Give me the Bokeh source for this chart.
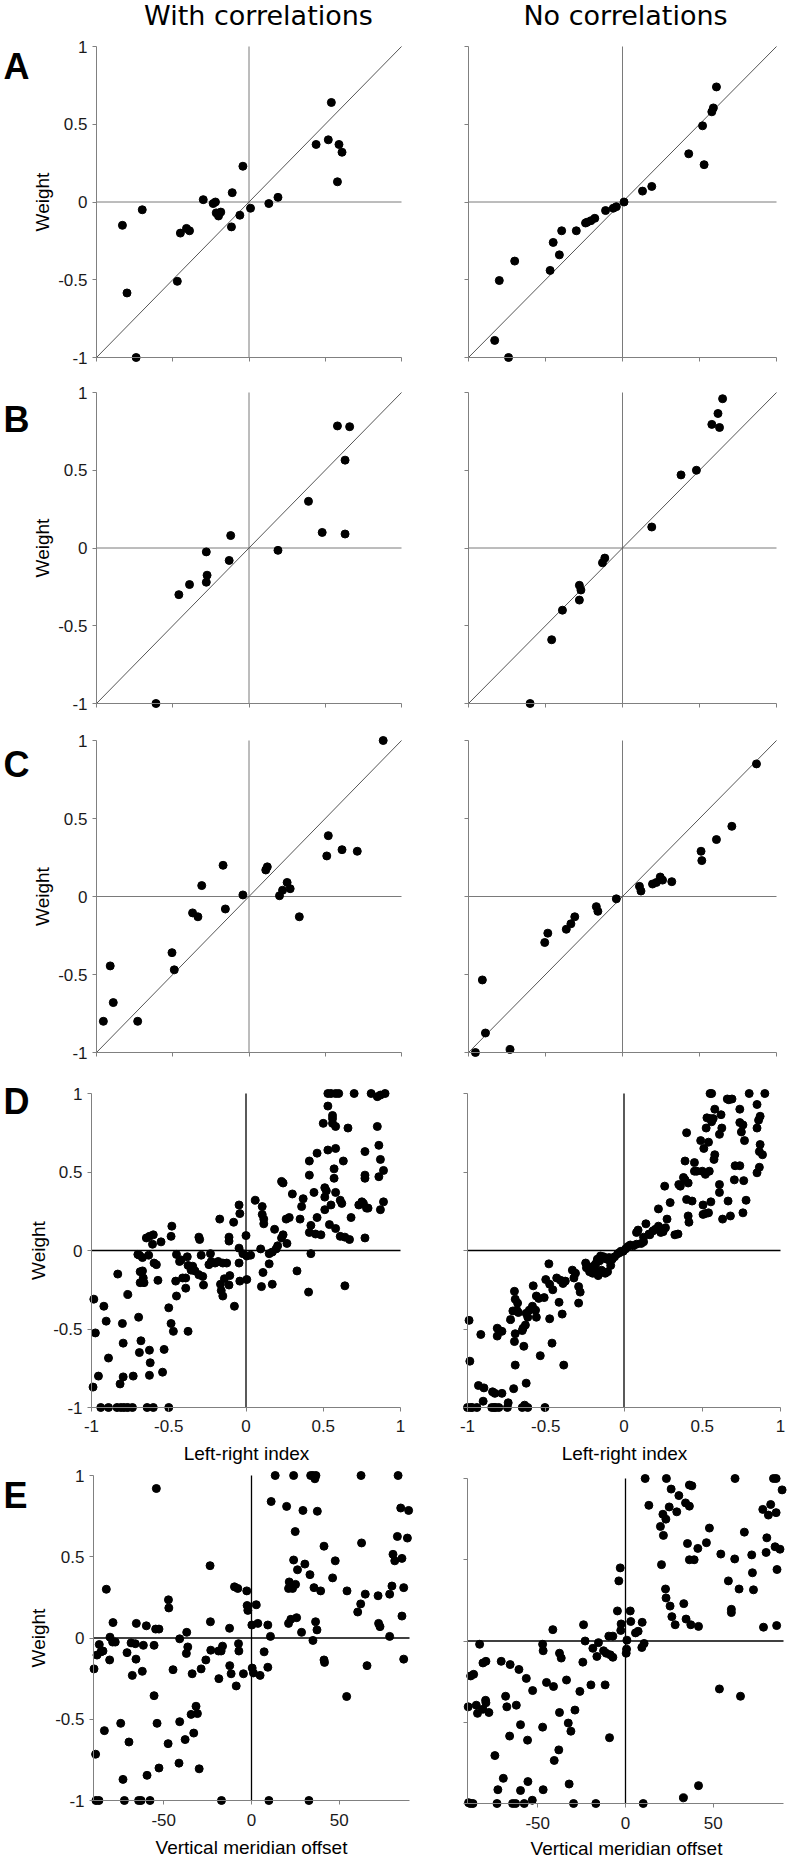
import math
from bokeh.plotting import figure
from bokeh.models import Label, FixedTicker, CustomJSTickFormatter, Range1d
from bokeh.layouts import column, row
from bokeh.embed import file_html
from bokeh.resources import INLINE

# ---------------- data ----------------
WEIGHT_TICKS = [-1, -0.5, 0, 0.5, 1]
WEIGHT_TICK_LABELS = ["-1", "-0.5", "0", "0.5", "1"]
LR_TICKS = [-1, -0.5, 0, 0.5, 1]
LR_TICK_LABELS = ["-1", "-0.5", "0", "0.5", "1"]
VM_TICKS = [-50, 0, 50]
VM_TICK_LABELS = ["-50", "0", "50"]
WEIGHT_LIMITS = [-1, 1]
LR_LIMITS = [-1, 1]
VM_LIMITS = [-90, 90]

COLUMN_TITLES = ["With correlations", "No correlations"]
ROW_LETTERS = ["A", "B", "C", "D", "E"]
Y_TITLE = "Weight"
LR_TITLE = "Left-right index"
VM_TITLE = "Vertical meridian offset"

a_with_x = [0.54, 0.44, 0.52, 0.59, 0.61, 0.58, -0.04, -0.11, -0.30, -0.235, -0.22, -0.215, -0.20, -0.185,
            -0.06, -0.115, 0.01, 0.13, 0.19, -0.83, -0.70, -0.45, -0.41, -0.39, -0.47, -0.80, -0.74]
a_with_y = [0.64, 0.37, 0.40, 0.37, 0.32, 0.13, 0.23, 0.06, 0.015, -0.01, 0.0, -0.07, -0.09, -0.065,
            -0.085, -0.16, -0.04, -0.01, 0.03, -0.15, -0.05, -0.20, -0.17, -0.185, -0.51, -0.585, -1.0]
a_no_x = [0.61, 0.59, 0.58, 0.52, 0.43, 0.53, 0.19, 0.13, 0.01, -0.04, -0.06, -0.11, -0.18, -0.205, -0.23,
          -0.24, -0.30, -0.395, -0.45, -0.41, -0.47, -0.70, -0.80, -0.83, -0.74]
a_no_y = [0.74, 0.605, 0.58, 0.49, 0.31, 0.24, 0.10, 0.07, 0.0, -0.03, -0.04, -0.055, -0.105, -0.12, -0.13,
          -0.135, -0.185, -0.185, -0.26, -0.34, -0.44, -0.38, -0.505, -0.89, -1.0]

b_with_x = [0.58, 0.66, 0.63, 0.39, 0.48, 0.63, 0.19, -0.12, -0.13, -0.28, -0.275, -0.28, -0.39, -0.46, -0.61]
b_with_y = [0.785, 0.78, 0.565, 0.30, 0.10, 0.09, -0.015, 0.08, -0.08, -0.025, -0.175, -0.22, -0.235, -0.30, -1.0]
b_no_x = [0.65, 0.62, 0.58, 0.63, 0.48, 0.38, 0.19, -0.115, -0.13, -0.28, -0.27, -0.28, -0.39, -0.46, -0.60]
b_no_y = [0.96, 0.865, 0.795, 0.775, 0.50, 0.47, 0.135, -0.065, -0.095, -0.24, -0.27, -0.335, -0.40, -0.59, -1.0]

c_with_x = [0.88, 0.52, 0.51, 0.61, 0.71, 0.12, 0.11, 0.25, 0.27, 0.22, 0.20, 0.33, -0.04, -0.17, -0.31, -0.155,
            -0.37, -0.335, -0.505, -0.49, -0.91, -0.89, -0.955, -0.73]
c_with_y = [1.0, 0.39, 0.26, 0.30, 0.29, 0.19, 0.17, 0.09, 0.05, 0.04, 0.005, -0.13, 0.01, 0.20, 0.07, -0.08,
            -0.105, -0.13, -0.36, -0.47, -0.445, -0.68, -0.80, -0.80]
c_no_x = [0.87, 0.71, 0.61, 0.51, 0.515, 0.32, 0.26, 0.245, 0.22, 0.195, 0.11, 0.12, -0.04, -0.17, -0.16, -0.31,
          -0.335, -0.365, -0.485, -0.505, -0.91, -0.89, -0.955, -0.73]
c_no_y = [0.85, 0.45, 0.365, 0.29, 0.23, 0.095, 0.105, 0.125, 0.09, 0.08, 0.065, 0.035, -0.015, -0.065, -0.095, -0.13,
          -0.175, -0.21, -0.235, -0.295, -0.535, -0.875, -1.0, -0.98]

d_with_x = [0.53, 0.55, 0.58, 0.60, 0.70, 0.81, 0.85, 0.87, 0.90, 0.53,
            0.56, 0.56, 0.56, 0.50, 0.58, 0.66, 0.85, 0.86, 0.53, 0.58,
            0.46, 0.77, 0.87, 0.41, 0.63, 0.57, 0.89, 0.41, 0.57, 0.77,
            0.77, 0.86, 0.23, 0.24, 0.30, 0.44, 0.51, 0.52, 0.58, 0.37,
            0.36, 0.51, 0.61, 0.62, 0.55, 0.73, 0.75, 0.76, 0.78, 0.79,
            0.89, 0.87, 0.51, 0.35, 0.26, 0.28, 0.46, 0.68, 0.42, 0.41,
            0.45, 0.485, 0.54, 0.58, 0.61, 0.64, 0.67, 0.77, 0.23, 0.24,
            0.265, 0.42, 0.33, 0.405, 0.64, 0.06, 0.105, 0.105, 0.115, 0.115,
            -0.045, -0.04, -0.17, -0.08, 0.185, 0.0, 0.195, 0.205, 0.17, 0.15,
            0.095, 0.03, 0.005, -0.045, -0.02, -0.045, 0.005, -0.04, -0.11, -0.11,
            -0.305, -0.30, -0.23, -0.29, -0.345, -0.33, -0.225, -0.24, -0.20, -0.18,
            -0.15, -0.125, -0.165, -0.16, -0.15, -0.105, -0.11, -0.28, -0.275, -0.14,
            -0.075, 0.10, 0.11, 0.15, 0.17, -0.355, -0.43, -0.375, -0.38, -0.45,
            -0.48, -0.485, -0.645, -0.625, -0.60, -0.605, -0.55, -0.70, -0.69, -0.67,
            -0.67, -0.685, -0.665, -0.66, -0.685, -0.63, -0.595, -0.58, -0.57, -0.42,
            -0.455, -0.41, -0.39, -0.39, -0.305, -0.45, -0.50, -0.485, -0.47, -0.375,
            -0.765, -0.83, -0.985, -0.92, -0.905, -0.975, -0.80, -0.795, -0.695, -0.68,
            -0.69, -0.625, -0.53, -0.62, -0.89, -0.955, -0.99, -0.73, -0.625, -0.54,
            -0.795, -0.815, -0.94, -0.89, -0.835, -0.81, -0.79, -0.765, -0.735, -0.64,
            -0.60, -0.50]
d_with_y = [1.0, 1.0, 1.0, 1.0, 1.0, 1.0, 0.98, 0.99, 1.0, 0.92,
            0.86, 0.84, 0.81, 0.81, 0.79, 0.78, 0.79, 0.67, 0.64, 0.65,
            0.62, 0.63, 0.58, 0.57, 0.57, 0.52, 0.51, 0.48, 0.46, 0.48,
            0.46, 0.47, 0.44, 0.43, 0.36, 0.37, 0.40, 0.38, 0.37, 0.33,
            0.28, 0.34, 0.32, 0.30, 0.29, 0.29, 0.31, 0.30, 0.27, 0.27,
            0.31, 0.26, 0.26, 0.20, 0.20, 0.21, 0.21, 0.21, 0.16, 0.115,
            0.105, 0.10, 0.165, 0.14, 0.09, 0.085, 0.07, 0.08, 0.08, 0.10,
            0.045, -0.02, -0.13, -0.265, -0.225, 0.32, 0.28, 0.23, 0.20, 0.17,
            0.29, 0.235, 0.20, 0.18, 0.135, 0.095, 0.01, 0.03, -0.01, -0.02,
            0.01, -0.03, -0.035, 0.015, -0.02, -0.08, -0.185, -0.195, 0.085, 0.06,
            0.085, 0.07, -0.02, -0.03, -0.10, -0.13, -0.07, -0.09, -0.08, -0.07,
            -0.08, -0.08, -0.215, -0.255, -0.29, -0.16, -0.22, -0.165, -0.22, -0.18,
            -0.355, -0.23, -0.14, -0.085, -0.215, -0.125, -0.07, -0.095, -0.04, -0.025,
            0.155, 0.09, 0.08, 0.09, 0.10, 0.04, 0.055, -0.025, -0.03, -0.045,
            -0.13, -0.135, -0.175, -0.205, -0.205, -0.03, -0.08, -0.09, -0.19, -0.06,
            -0.195, -0.175, -0.175, -0.24, -0.155, -0.29, -0.365, -0.465, -0.515, -0.515,
            -0.28, -0.15, -0.31, -0.355, -0.45, -0.525, -0.465, -0.59, -0.425, -0.575,
            -0.65, -0.635, -0.63, -0.715, -0.685, -0.80, -0.87, -0.80, -0.795, -0.775,
            -0.805, -0.85, -1.0, -1.0, -1.0, -1.0, -1.0, -1.0, -1.0, -1.0,
            -1.0, -1.0]

d_no_x = [0.55, 0.56, 0.80, 0.90, 0.66, 0.67, 0.69, 0.85, 0.74, 0.58,
          0.62, 0.53, 0.55, 0.57, 0.87, 0.86, 0.74, 0.76, 0.85, 0.525,
          0.56, 0.61, 0.625, 0.40, 0.75, 0.49, 0.51, 0.54, 0.87, 0.77,
          0.865, 0.885, 0.39, 0.45, 0.58, 0.575, 0.71, 0.74, 0.865, 0.85,
          0.45, 0.465, 0.50, 0.52, 0.545, 0.61, 0.705, 0.765, 0.38, 0.39,
          0.41, 0.36, 0.35, 0.26, 0.61, 0.665, 0.78, 0.40, 0.435, 0.505,
          0.555, 0.505, 0.52, 0.54, 0.63, 0.68, 0.76, 0.295, 0.22, 0.41,
          0.415, 0.275, 0.265, 0.245, 0.235, 0.22, 0.20, 0.185, 0.16, 0.14,
          0.09, 0.08, 0.125, 0.11, 0.165, 0.325, 0.345, 0.25, 0.04, 0.025,
          0.01, -0.005, -0.02, -0.03, -0.04, -0.06, -0.075, -0.085, -0.095, -0.11,
          -0.13, -0.15, -0.155, -0.17, -0.175, -0.185, -0.19, -0.165, -0.21, -0.24,
          -0.245, -0.22, -0.20, -0.09, -0.12, -0.105, -0.145, 0.08, 0.125, 0.06,
          -0.48, -0.50, -0.475, -0.43, -0.405, -0.39, -0.375, -0.33, -0.31, -0.32,
          -0.29, -0.28, -0.29, -0.415, -0.395, -0.475, -0.455, -0.58, -0.56, -0.545,
          -0.51, -0.585, -0.565, -0.56, -0.605, -0.625, -0.615, -0.63, -0.645, -0.65,
          -0.70, -0.695, -0.68, -0.685, -0.71, -0.675, -0.725, -0.695, -0.70, -0.64,
          -0.46, -0.535, -0.385, -0.695, -0.625, -0.705, -0.81, -0.795, -0.81, -0.78,
          -0.915, -0.99, -0.985, -0.93, -0.895, -0.84, -0.825, -0.78, -0.90, -1.0,
          -0.98, -0.97, -0.94, -0.845, -0.83, -0.82, -0.80, -0.745, -0.74, -0.65,
          -0.635, -0.615, -0.505]
d_no_y = [1.0, 1.0, 1.0, 1.0, 0.965, 0.96, 0.965, 0.93, 0.90, 0.90,
          0.865, 0.845, 0.84, 0.84, 0.855, 0.83, 0.815, 0.80, 0.78, 0.78,
          0.82, 0.74, 0.78, 0.75, 0.755, 0.70, 0.65, 0.69, 0.675, 0.70,
          0.63, 0.61, 0.57, 0.56, 0.61, 0.58, 0.54, 0.54, 0.53, 0.495,
          0.505, 0.505, 0.505, 0.485, 0.505, 0.42, 0.45, 0.445, 0.465, 0.45,
          0.43, 0.41, 0.42, 0.41, 0.37, 0.315, 0.32, 0.325, 0.315, 0.29,
          0.31, 0.23, 0.235, 0.24, 0.20, 0.22, 0.24, 0.305, 0.265, 0.22,
          0.18, 0.20, 0.145, 0.125, 0.115, 0.155, 0.135, 0.125, 0.105, 0.17,
          0.13, 0.115, 0.085, 0.045, 0.10, 0.10, 0.105, 0.12, 0.035, 0.025,
          0.01, -0.005, -0.005, -0.015, -0.02, -0.04, -0.055, -0.095, -0.045, -0.055,
          -0.04, -0.035, -0.065, -0.055, -0.075, -0.09, -0.125, -0.16, -0.105, -0.11,
          -0.08, -0.135, -0.145, -0.065, -0.145, -0.135, -0.125, 0.04, 0.055, 0.03,
          -0.085, -0.185, -0.215, -0.175, -0.19, -0.21, -0.195, -0.125, -0.145, -0.175,
          -0.23, -0.265, -0.335, -0.33, -0.405, -0.435, -0.25, -0.225, -0.29, -0.305,
          -0.30, -0.355, -0.38, -0.425, -0.38, -0.40, -0.425, -0.475, -0.495, -0.51,
          -0.26, -0.31, -0.335, -0.38, -0.385, -0.395, -0.44, -0.53, -0.58, -0.61,
          -0.59, -0.67, -0.73, -0.73, -0.845, -0.88, -0.495, -0.51, -0.545, -0.515,
          -0.535, -0.445, -0.705, -0.86, -0.875, -0.90, -0.91, -0.91, -0.96, -1.0,
          -1.0, -1.0, -1.0, -1.0, -1.0, -1.0, -1.0, -1.0, -0.97, -1.0,
          -0.985, -1.0, -1.0]

e_with_x = [13.5, 24.0, 33.7, 35.0, 36.7, 36.1, 62.4, 83.5, -54.2, 11.2,
            20.0, 29.3, 37.5, 85.0, 89.5, 24.9, 83.1, 88.8, 62.7, 41.3,
            80.6, 81.6, 85.7, 24.0, 47.7, 30.4, 26.2, 33.3, 46.2, 21.5,
            21.1, 23.4, 25.1, 35.6, 39.4, 54.4, 80.0, 64.8, 86.7, 72.1,
            78.7, -9.7, -7.8, -2.7, -82.7, -47.3, -47.1, -23.6, 62.2, 60.5,
            -2.5, -2.1, 2.7, 21.1, 22.4, 25.7, 28.5, 36.5, 37.3, 72.4,
            73.2, 78.7, 85.7, 0.2, 3.6, 9.3, 10.8, 35.0, 41.3, 41.6,
            65.8, 86.7, 54.2, -23.4, -12.5, -23.2, -26.0, -18.8, -16.5, -12.4,
            -11.6, -8.7, -7.4, -7.2, -4.6, 0.4, 1.1, 4.9, 7.2, 9.3,
            -17.3, -40.9, -36.9, -36.3, -37.1, -33.8, -28.7, -44.7, -18.6, -55.5,
            -54.6, -52.7, -55.5, -61.6, -59.9, -65.6, -66.2, -62.2, -68.6, -70.9,
            -67.9, -65.8, -78.9, -80.6, -79.1, -77.6, -80.8, -85.7, -84.6, -86.7,
            -88.0, -89.7, -53.8, -47.5, -40.9, -37.8, -34.4, -32.9, -31.6, -30.8,
            -29.8, -41.3, -52.7, -59.5, -73.2, -69.8, -74.5, -83.8, -88.8, -88.6,
            -86.9, -72.4, -64.3, -62.9, -57.8, -17.1, 9.9, 32.7]
e_with_y = [1.0, 1.0, 1.0, 1.0, 1.0, 0.98, 1.0, 1.0, 0.92, 0.84,
            0.81, 0.785, 0.78, 0.80, 0.785, 0.655, 0.625, 0.615, 0.585, 0.565,
            0.515, 0.475, 0.49, 0.48, 0.475, 0.455, 0.42, 0.39, 0.37, 0.345,
            0.305, 0.305, 0.33, 0.31, 0.29, 0.29, 0.32, 0.27, 0.31, 0.26,
            0.27, 0.315, 0.305, 0.29, 0.30, 0.235, 0.185, 0.445, 0.21, 0.16,
            0.20, 0.17, 0.205, 0.09, 0.115, 0.125, 0.035, 0.10, 0.05, 0.09,
            0.07, 0.01, 0.135, 0.08, 0.09, 0.08, 0.01, -0.015, -0.135, -0.15,
            -0.17, -0.13, -0.36, 0.10, 0.06, -0.075, -0.135, -0.08, -0.05, -0.17,
            -0.22, -0.295, -0.035, -0.08, -0.22, -0.185, -0.215, -0.23, -0.085, -0.18,
            -0.08, -0.005, 0.035, -0.055, -0.095, -0.22, -0.19, -0.195, -0.25, -0.355,
            0.055, 0.055, -0.045, -0.045, 0.075, 0.09, -0.035, -0.205, -0.03, -0.09,
            -0.23, -0.13, 0.095, 0.005, -0.025, -0.025, -0.135, -0.085, -0.08, -0.04,
            -0.105, -0.19, -0.525, -0.65, -0.515, -0.625, -0.47, -0.585, -0.42, -0.465,
            -0.805, -0.77, -0.80, -0.845, -0.87, -0.64, -0.525, -0.57, -0.715, -1.0,
            -1.0, -1.0, -1.0, -1.0, -1.0, -1.0, -1.0, -1.0]

e_no_x = [11.2, 23.3, 62.4, 84.3, 85.8, 26.0, 30.4, 36.4, 37.8, 34.2,
          36.4, 13.3, 29.2, 21.3, 23.0, 24.9, 19.9, 21.6, 78.2, 82.7,
          81.4, 85.8, 89.2, 47.8, 67.7, 35.3, 46.1, 41.2, 54.3, 36.4,
          39.1, 62.2, 71.9, 80.5, 80.1, 85.2, 88.0, 86.3, 72.3, 20.5,
          -3.0, -3.8, 22.8, 23.1, 25.4, 26.4, 28.3, 33.2, 34.5, 37.2,
          41.6, 64.7, 58.6, 72.9, 60.3, 60.3, 78.6, 86.1, -4.6, 2.7,
          3.0, -2.5, -2.7, 9.5, 7.2, 5.7, 0.8, 0.6, 0.4, 9.3,
          10.6, -23.9, -41.4, -23.0, -9.5, -7.2, -15.4, -18.6, -16.3, -12.5,
          -11.0, -8.7, -7.2, -83.1, -47.2, -46.9, -37.6, -36.6, -24.3, -33.6,
          -45.0, -41.0, -52.9, -56.5, -60.7, -65.7, -70.8, -81.2, -79.5, -88.2,
          -86.5, -19.7, -11.6, -26.0, -68.3, -67.6, -62.2, -79.7, -79.5, -85.0,
          -84.3, -81.2, -77.8, -89.6, -28.8, -37.6, -59.8, -47.2, -32.6, -31.1,
          -9.1, -66.0, -55.8, -38.0, -74.4, -40.6, -69.6, -72.7, -55.6, -46.9,
          -32.1, -53.1, -59.8, 53.5, 65.5, 33.0, 41.6, -89.4, -88.4, -86.9,
          -73.2, -64.3, -62.6, -57.7, -29.6, -16.9, 10.1]
e_no_y = [1.0, 1.0, 1.0, 1.0, 1.0, 0.935, 0.895, 0.96, 0.955, 0.85,
          0.83, 0.835, 0.795, 0.78, 0.75, 0.825, 0.705, 0.65, 0.81, 0.84,
          0.775, 0.79, 0.93, 0.695, 0.67, 0.60, 0.605, 0.57, 0.535, 0.50,
          0.50, 0.505, 0.53, 0.635, 0.545, 0.58, 0.565, 0.44, 0.42, 0.47,
          0.45, 0.37, 0.32, 0.265, 0.215, 0.15, 0.10, 0.23, 0.135, 0.10,
          0.09, 0.32, 0.37, 0.315, 0.195, 0.175, 0.085, 0.095, 0.185, 0.185,
          0.12, 0.105, 0.065, 0.115, 0.06, 0.05, 0.005, -0.05, -0.075, -0.04,
          -0.015, 0.10, 0.07, 0.0, 0.03, 0.03, -0.01, -0.045, -0.095, -0.06,
          -0.075, -0.085, -0.10, -0.02, -0.02, -0.06, -0.075, -0.105, -0.13, -0.24,
          -0.255, -0.28, -0.305, -0.23, -0.175, -0.145, -0.125, -0.135, -0.125, -0.215,
          -0.205, -0.27, -0.27, -0.31, -0.34, -0.405, -0.395, -0.365, -0.38, -0.395,
          -0.445, -0.42, -0.44, -0.405, -0.425, -0.44, -0.515, -0.53, -0.505, -0.555,
          -0.595, -0.585, -0.61, -0.67, -0.705, -0.735, -0.845, -0.915, -0.865, -0.915,
          -0.88, -0.98, -0.92, -0.295, -0.34, -0.965, -0.89, -0.995, -1.0, -1.0,
          -1.0, -1.0, -1.0, -1.0, -1.0, -1.0, -1.0]

# ---------------- layout (page pixels; Bokeh's page template has no body margin) ----------------
COL_FIG_X = [(0, 430), (430, 788)]
ROW_FIG_Y = [(0, 375), (375, 722), (722, 1066), (1066, 1466), (1466, 1859)]
AX_X = [[(96, 401), (468, 776)], [(96, 401), (468, 776)], [(96, 401), (468, 776)],
        [(91, 400), (467, 780)], [(93, 409), (467, 783)]]
AX_Y = [[(46, 357), (46, 357)], [(392, 703), (392, 703)], [(740, 1052), (740, 1052)],
        [(1093, 1407), (1093, 1407)], [(1475, 1800), (1478, 1803)]]
LETTER_BASE = [66, 419, 764, 1101, 1495]
LETTER_X = 3
YTITLE_X = [42, 42, 42, 38, 38]
TITLE_X = [258, 625]
TITLE_Y = 15

AXIS_GRAY = "#808080"
LABEL_FONT = "Liberation Sans"


def make_formatter(ticks, labels):
    if labels is None:
        return CustomJSTickFormatter(code="return '';")
    return CustomJSTickFormatter(args=dict(tick_values=ticks, tick_texts=labels),
                                 code="const i = tick_values.indexOf(tick); return i >= 0 ? tick_texts[i] : '';")


def make_panel(r, c, xs, ys, xlim, xticks, xlabels, show_y_labels, diag, zero_color, zero_width,
               x_title=None, x_title_pos=None, x_standoff=8):
    fx0, fx1 = COL_FIG_X[c]
    fy0, fy1 = ROW_FIG_Y[r]
    ax0, ax1 = AX_X[r][c]
    ay0, ay1 = AX_Y[r][c]
    ylim = WEIGHT_LIMITS
    W, H = fx1 - fx0, fy1 - fy0
    a, b = ax0 - fx0, ax1 - fx0          # canvas px of xlim[0], xlim[1]
    t, u = ay0 - fy0, ay1 - fy0          # canvas px (from top) of ylim[1], ylim[0]
    sx = (b - a) / (xlim[1] - xlim[0])
    sy = (u - t) / (ylim[1] - ylim[0])
    p = figure(width=W, height=H,
               x_range=Range1d(xlim[0] - a / sx, xlim[1] + (W - b) / sx),
               y_range=Range1d(ylim[0] - (H - u) / sy, ylim[1] + t / sy),
               output_backend="svg", toolbar_location=None, tools="", title=None,
               min_border=0, min_border_left=0, min_border_right=0,
               min_border_top=0, min_border_bottom=0)
    p.outline_line_color = None
    p.background_fill_color = "white"
    p.border_fill_color = "white"
    p.xgrid.visible = False
    p.ygrid.visible = False

    xa = p.xaxis[0]
    ya = p.yaxis[0]
    for ax in (xa, ya):
        ax.axis_line_color = AXIS_GRAY
        ax.axis_line_width = 1
        ax.major_tick_line_color = AXIS_GRAY
        ax.minor_tick_line_color = None
        ax.major_tick_out = 4
        ax.major_tick_in = 0
        ax.major_label_text_font = LABEL_FONT
        ax.major_label_text_font_size = "17px"
        ax.major_label_text_color = "#1a1a1a"
    xa.fixed_location = ylim[0]
    xa.bounds = (xlim[0], xlim[1])
    xa.ticker = FixedTicker(ticks=xticks)
    xa.formatter = make_formatter(xticks, xlabels)
    if xlabels is None:
        xa.major_label_text_font_size = "0px"
        xa.major_label_standoff = 0
    else:
        xa.major_label_standoff = x_standoff
    ya.fixed_location = xlim[0]
    ya.bounds = (ylim[0], ylim[1])
    ya.ticker = FixedTicker(ticks=WEIGHT_TICKS)
    ya.formatter = make_formatter(WEIGHT_TICKS, WEIGHT_TICK_LABELS if show_y_labels else None)
    if show_y_labels:
        ya.major_label_standoff = 5
    else:
        ya.major_label_text_font_size = "0px"
        ya.major_label_standoff = 0

    # reference lines
    p.segment(x0=[xlim[0], 0], y0=[0, ylim[0]], x1=[xlim[1], 0], y1=[0, ylim[1]],
              line_color=zero_color, line_width=zero_width)
    if diag:
        p.line(x=list(xlim), y=list(ylim), line_color="#555555", line_width=1)
    p.scatter(x=xs, y=ys, size=8, color="black", marker="circle")

    def put(text, px, py, size, bold=False, align="center", baseline="middle", angle=0.0, font=LABEL_FONT):
        p.add_layout(Label(x=px - fx0, y=fy1 - py, x_units="screen", y_units="screen", text=text,
                           text_font=font, text_font_size=f"{size}px",
                           text_font_style="bold" if bold else "normal",
                           text_align=align, text_baseline=baseline, angle=angle,
                           text_color="black"))

    if r == 0:
        put(COLUMN_TITLES[c], TITLE_X[c], TITLE_Y, 27, font="DejaVu Sans")
    if c == 0:
        put(ROW_LETTERS[r], LETTER_X, LETTER_BASE[r], 36, bold=True, align="left", baseline="alphabetic")
        put(Y_TITLE, YTITLE_X[r], (ay0 + ay1) / 2, 19, angle=math.pi / 2)
    if x_title is not None:
        put(x_title, x_title_pos[0], x_title_pos[1], 19)
    return p


rows = []
abc = [(a_with_x, a_with_y, a_no_x, a_no_y), (b_with_x, b_with_y, b_no_x, b_no_y),
       (c_with_x, c_with_y, c_no_x, c_no_y)]
for r, (wx, wy, nx, ny) in enumerate(abc):
    left = make_panel(r, 0, wx, wy, LR_LIMITS, LR_TICKS, None, True, True, "#7a7a7a", 1)
    right = make_panel(r, 1, nx, ny, LR_LIMITS, LR_TICKS, None, False, True, "#7a7a7a", 1)
    rows.append(row(left, right))

dl = make_panel(3, 0, d_with_x, d_with_y, LR_LIMITS, LR_TICKS, LR_TICK_LABELS, True, False, "black", 1.3,
                x_title=LR_TITLE, x_title_pos=(246, 1453), x_standoff=8)
dr = make_panel(3, 1, d_no_x, d_no_y, LR_LIMITS, LR_TICKS, LR_TICK_LABELS, False, False, "black", 1.3,
                x_title=LR_TITLE, x_title_pos=(624, 1453), x_standoff=8)
rows.append(row(dl, dr))

el = make_panel(4, 0, e_with_x, e_with_y, VM_LIMITS, VM_TICKS, VM_TICK_LABELS, True, False, "black", 1.3,
                x_title=VM_TITLE, x_title_pos=(251, 1847), x_standoff=9)
er = make_panel(4, 1, e_no_x, e_no_y, VM_LIMITS, VM_TICKS, VM_TICK_LABELS, False, False, "black", 1.3,
                x_title=VM_TITLE, x_title_pos=(626, 1848), x_standoff=9)
rows.append(row(el, er))

layout = column(*rows)
open("out.html", "w").write(file_html(layout, INLINE, "Weights"))
